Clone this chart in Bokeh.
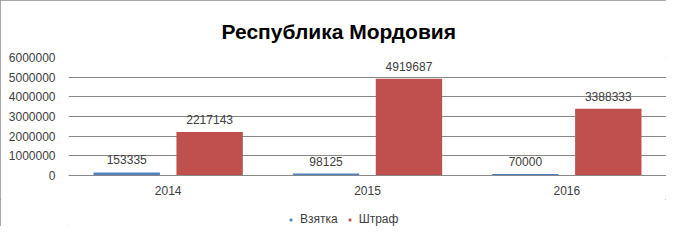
from bokeh.plotting import figure
from bokeh.models import ColumnDataSource, FactorRange, Range1d, NumeralTickFormatter, Legend, LegendItem, Title, FixedTicker
from bokeh.layouts import column
from bokeh.transform import dodge
from bokeh.core.properties import value
from bokeh.embed import file_html
from bokeh.resources import INLINE

years = ["2014", "2015", "2016"]
bribe = [153335, 98125, 70000]
fine = [2217143, 4919687, 3388333]
series_names = ["Взятка", "Штраф"]
title_text = "Республика Мордовия"

FONT = "Liberation Sans"
BLUE = "#4F81BD"
RED = "#C0504D"
GRID = "#888888"

src = ColumnDataSource(dict(
    year=years, bribe=bribe, fine=fine,
    bribe_lbl=[str(v) for v in bribe], fine_lbl=[str(v) for v in fine],
))

p = figure(width=666, height=199, output_backend="svg", toolbar_location=None,
           x_range=FactorRange(*years, range_padding=0), y_range=Range1d(0, 6000000),
           min_border_left=68, min_border_right=0, min_border_top=57, min_border_bottom=24)
p.title = Title(text=title_text, align="left", text_font=FONT, text_font_size="21px",
                text_font_style="bold", text_color="#000000", offset=153, standoff=30)

p.outline_line_color = None

r1 = p.vbar(x=dodge("year", -0.208, range=p.x_range), top="bribe", width=0.333, source=src,
            fill_color=BLUE, line_color=None)
r2 = p.vbar(x=dodge("year", 0.208, range=p.x_range), top="fine", width=0.333, source=src,
            fill_color=RED, line_color=None)

p.text(x=dodge("year", -0.208, range=p.x_range), y="bribe", text="bribe_lbl", source=src,
       text_align="center", text_baseline="bottom", y_offset=-8,
       text_font=value(FONT), text_font_size="12px", text_color="#404040")
p.text(x=dodge("year", 0.208, range=p.x_range), y="fine", text="fine_lbl", source=src,
       text_align="center", text_baseline="bottom", y_offset=-8,
       text_font=value(FONT), text_font_size="12px", text_color="#404040")

p.xgrid.grid_line_color = None
p.ygrid.grid_line_color = GRID
p.ygrid.grid_line_width = 1

p.yaxis.ticker = FixedTicker(ticks=[0, 1000000, 2000000, 3000000, 4000000, 5000000, 6000000])
p.yaxis.formatter = NumeralTickFormatter(format="0")
p.yaxis.axis_line_color = None
p.yaxis.major_tick_line_color = None
p.yaxis.minor_tick_line_color = None
p.yaxis.major_label_standoff = 7
p.yaxis.major_label_text_font = FONT
p.yaxis.major_label_text_font_size = "12px"
p.yaxis.major_label_text_color = "#404040"

p.xaxis.axis_line_color = GRID
p.xaxis.major_tick_line_color = None
p.xaxis.minor_tick_line_color = None
p.xaxis.major_label_standoff = 4
p.xaxis.major_label_text_font = FONT
p.xaxis.major_label_text_font_size = "12px"
p.xaxis.major_label_text_color = "#404040"

# legend strip below the chart (its frame is aligned with the chart frame by the column layout)
lg = figure(width=666, height=27, output_backend="svg", toolbar_location=None,
            x_range=Range1d(0, 1), y_range=Range1d(0, 1),
            min_border_left=0, min_border_right=0, min_border_top=0, min_border_bottom=0)
lg.axis.visible = False
lg.grid.grid_line_color = None
lg.outline_line_color = None
l1 = lg.scatter(x=[-5], y=[-5], marker="square", size=7, fill_color=BLUE, line_color=None)
l2 = lg.scatter(x=[-5], y=[-5], marker="square", size=7, fill_color=RED, line_color=None)
legend = Legend(items=[LegendItem(label=series_names[0], renderers=[l1]),
                       LegendItem(label=series_names[1], renderers=[l2])],
                orientation="horizontal", location=(219, 0),
                label_text_font=FONT, label_text_font_size="12px", label_text_color="#404040",
                glyph_width=7, glyph_height=7, spacing=8, label_standoff=6,
                padding=0, margin=0, border_line_color=None, background_fill_alpha=0)
lg.add_layout(legend, "center")

layout = column(p, lg, spacing=0)
layout.styles = {"outline": "1px solid #8c8c8c", "outline-offset": "-1px"}

open("out.html", "w").write(file_html(layout, INLINE))
